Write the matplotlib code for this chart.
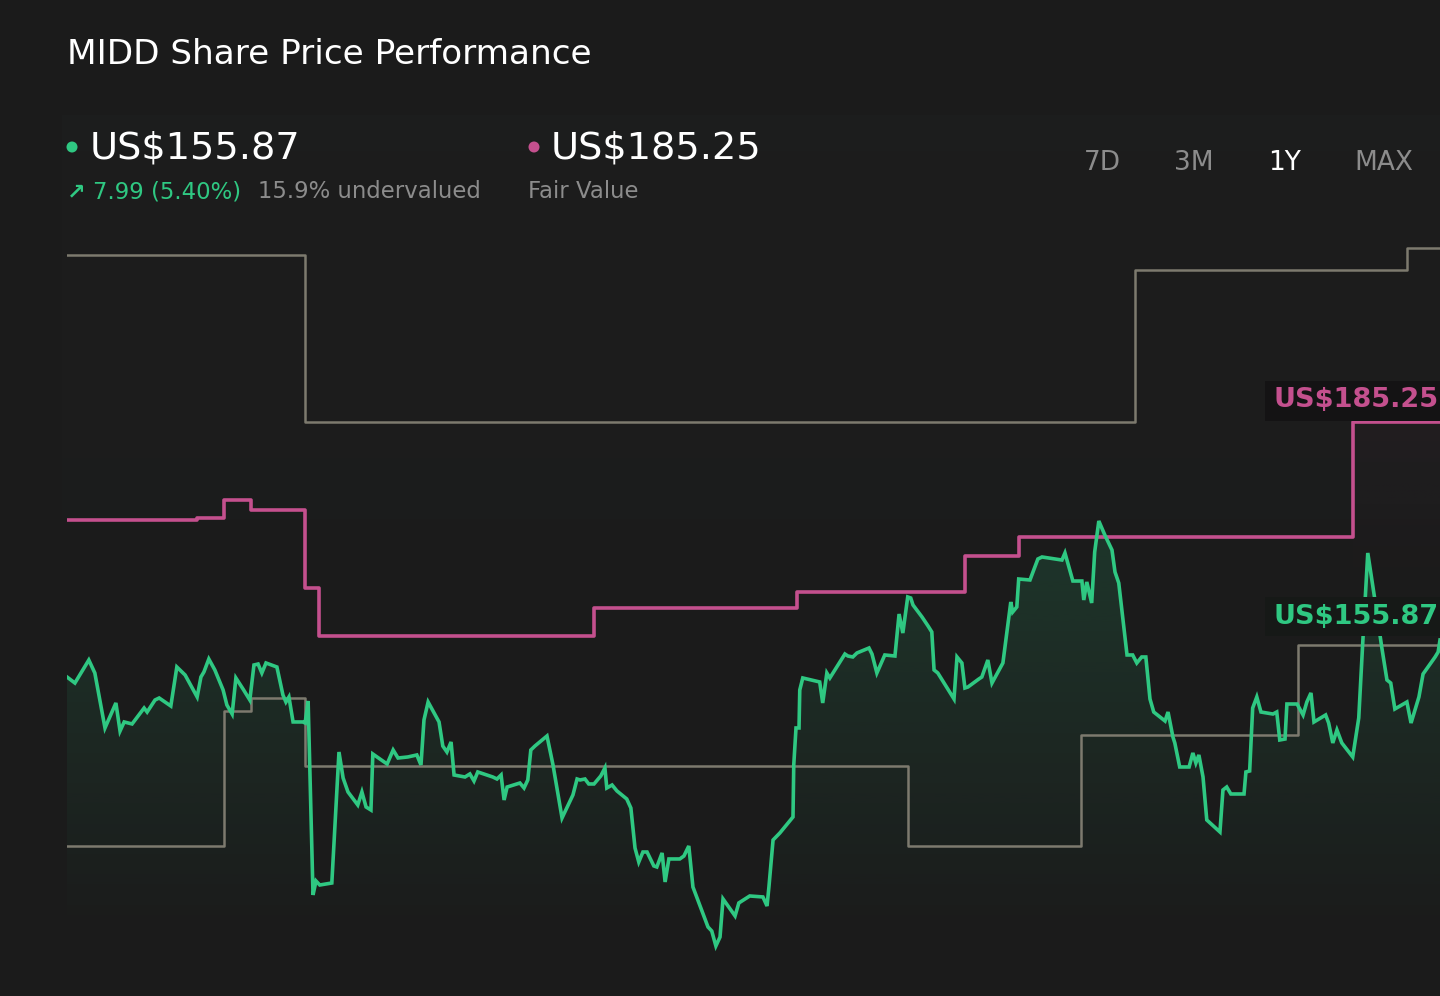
import numpy as np
import matplotlib
matplotlib.use("Agg")
import matplotlib.pyplot as plt
from matplotlib.patches import Rectangle, Polygon, Ellipse
from matplotlib.colors import to_rgb

# ---------------- data ----------------
price_days = [0.0, 2.1, 5.8, 7.4, 10.1, 13.0, 14.1, 15.2, 17.3, 20.5, 21.3, 23.4, 24.5, 27.6, 29.2,
              31.4, 34.6, 35.6, 36.4, 37.7, 39.3, 41.5, 42.5, 43.9, 44.9, 46.8, 48.6, 49.7, 50.8,
              51.8, 52.9, 55.8, 57.4, 58.2, 59.0, 60.1, 62.7, 63.3, 64.1, 65.4, 66.2, 67.2, 70.4,
              72.3, 73.4, 74.7, 77.3, 78.4, 79.5, 80.8, 81.3, 85.1, 86.7, 88.0, 90.6, 93.0, 94.1,
              94.9, 96.0, 98.9, 99.9, 101.0, 102.1, 102.9, 105.8, 107.1, 108.2, 109.2, 113.2, 114.3,
              115.4, 116.2, 117.0, 120.4, 121.5, 122.5, 123.3, 124.4, 127.6, 129.2, 131.6, 134.5,
              135.6, 136.4, 137.7, 138.7, 140.1, 141.9, 143.0, 143.5, 144.9, 146.2, 148.8, 149.9,
              151.0, 152.0, 153.1, 154.2, 156.0, 156.8, 158.2, 159.0, 160.0, 162.9, 164.0, 165.3,
              166.4, 170.4, 171.4, 172.5, 173.6, 174.4, 177.6, 178.6, 181.5, 185.0, 186.1, 186.6,
              187.7, 189.5, 193.0, 193.2, 193.8, 194.6, 194.8, 195.6, 200.1, 200.9, 202.0, 202.8,
              206.8, 207.6, 208.9, 210.0, 213.2, 214.0, 215.3, 217.4, 220.1, 221.2, 222.2, 223.5,
              224.3, 224.9, 227.3, 228.9, 229.9, 230.5, 231.5, 235.8, 236.6, 237.9, 238.7, 239.5,
              242.4, 243.2, 244.8, 245.9, 248.8, 250.9, 251.4, 252.5, 253.0, 256.0, 258.1, 259.2,
              264.5, 265.3, 267.4, 269.8, 270.3, 271.1, 272.4, 273.2, 274.3, 275.9, 277.8, 278.6,
              279.6, 281.8, 283.3, 284.4, 285.7, 286.8, 287.9, 288.9, 291.9, 292.7, 294.0, 294.5,
              295.8, 298.3, 299.3, 300.1, 300.9, 302.0, 303.0, 306.5, 307.3, 308.3, 309.4, 312.9,
              313.4, 314.4, 315.2, 316.3, 317.4, 320.6, 321.6, 322.4, 323.8, 324.3, 327.0, 328.6,
              329.6, 330.7, 331.5, 334.6, 335.4, 336.5, 337.6, 338.9, 341.8, 343.4, 344.5, 345.8,
              347.7, 349.5, 350.9, 351.9, 353.0, 356.2, 357.3, 359.4, 360.5, 363.7, 364.5, 365.0]
price_values = [150.88, 150.07, 153.17, 151.42, 144.01, 147.38, 143.60, 144.82, 144.55, 146.70, 146.16,
                147.78, 148.05, 146.97, 152.23, 151.15, 148.19, 150.88, 151.56, 153.31, 151.83, 149.13,
                147.11, 145.89, 150.75, 149.26, 147.78, 152.50, 152.63, 151.42, 152.77, 152.23, 148.46,
                147.51, 148.19, 144.82, 144.82, 144.68, 147.65, 121.50, 123.38, 122.84, 123.11, 140.77,
                137.27, 135.38, 133.63, 135.38, 133.36, 132.95, 140.50, 139.15, 141.04, 139.96, 140.10,
                140.37, 139.02, 145.09, 147.51, 144.82, 141.58, 140.77, 142.12, 137.67, 137.40, 137.81,
                136.86, 138.08, 137.40, 137.13, 137.67, 134.30, 136.05, 136.59, 135.92, 137.00, 141.04,
                141.58, 142.93, 139.02, 131.88, 134.98, 137.13, 137.00, 137.13, 136.46, 136.46, 137.54,
                138.62, 135.92, 136.32, 135.52, 134.44, 133.22, 127.83, 125.94, 127.29, 127.29, 125.41,
                125.27, 127.16, 123.25, 126.35, 126.35, 126.75, 128.10, 122.57, 117.18, 116.64, 114.62,
                115.83, 120.96, 118.67, 120.42, 121.36, 121.23, 120.01, 122.57, 128.91, 129.85, 132.01,
                139.02, 144.01, 144.01, 149.13, 150.75, 150.21, 147.38, 151.42, 150.75, 153.98, 153.71,
                153.58, 154.12, 154.79, 153.98, 151.42, 153.85, 153.71, 159.37, 156.81, 161.67, 161.53,
                160.59, 158.97, 157.76, 156.95, 151.83, 151.42, 147.92, 153.58, 152.77, 149.40, 149.53,
                150.61, 150.88, 153.17, 150.07, 152.77, 160.99, 159.64, 160.32, 164.09, 163.96, 166.79,
                167.06, 166.65, 167.60, 163.82, 163.82, 161.26, 163.69, 160.86, 167.73, 171.91, 170.02,
                168.00, 165.04, 163.55, 153.85, 153.85, 152.77, 153.58, 153.58, 147.92, 146.16, 144.95,
                146.16, 142.79, 141.99, 138.75, 138.75, 140.64, 139.29, 140.37, 137.40, 131.61, 129.99,
                135.65, 136.05, 135.11, 135.11, 138.08, 138.21, 146.70, 148.19, 146.16, 145.89, 146.16,
                142.39, 142.52, 147.24, 147.24, 145.76, 147.51, 148.73, 144.82, 145.76, 144.68, 141.99,
                143.74, 141.99, 140.10, 145.36, 155.87, 167.60, 161.26, 154.93, 150.48, 150.07, 146.57,
                147.51, 144.68, 148.19, 151.29, 153.58, 154.25, 155.87]

fair_days = [0.0, 34.6, 41.7, 48.9, 63.3, 67.0, 140.1, 194.0, 238.7, 253.0, 341.8, 365.0]
fair_values = [172.04, 172.31, 174.74, 173.39, 162.88, 156.41, 160.18, 162.34, 167.19, 169.75, 185.25, 185.25]

high_days = [0.0, 63.3, 283.9, 356.2, 365.0]
high_values = [207.76, 185.25, 205.73, 208.70, 208.70]

low_days = [0.0, 41.7, 48.9, 63.3, 223.5, 269.5, 327.2, 365.0]
low_values = [128.11, 146.30, 148.05, 138.89, 128.11, 143.07, 155.20, 155.20]

title = "MIDD Share Price Performance"
last_price = "US$155.87"
fair_value = "US$185.25"
change_text = "7.99 (5.40%)"
valuation_text = "15.9% undervalued"
fair_label = "Fair Value"
periods = ["7D", "3M", "1Y", "MAX"]
active_period = "1Y"

# ---------------- style ----------------
BG = "#1b1b1b"
GREEN = "#2fc882"
PINK = "#c4508e"
GREYLINE = "#7d7a6e"
MUTED = "#8c8c8c"

W, H = 1440, 996
fig = plt.figure(figsize=(W / 100, H / 100), dpi=100, facecolor=BG)

def fx(px):
    return px / W

def fy(py):
    return 1 - py / H

# faint panel behind the chart
panel = fig.add_axes([fx(62), fy(900), 1 - fx(62), fy(115) - fy(900)])
panel.set_axis_off()
grad = np.linspace(1, 0, 256).reshape(-1, 1)
panel.imshow(np.dstack([np.full_like(grad, 0.13), np.full_like(grad, 0.135), np.full_like(grad, 0.135), grad * 0.3]),
             aspect="auto", extent=[0, 1, 0, 1], origin="upper")
panel.set_xlim(0, 1); panel.set_ylim(0, 1)

ax = fig.add_axes([fx(67), fy(960), 1 - fx(67), fy(230) - fy(960)])
ax.set_facecolor("none")
ax.set_axis_off()

# gradient fill under price
gcol = to_rgb(GREEN)
n = 256
alpha = np.linspace(0.16, 0.0, n).reshape(-1, 1)
img = np.dstack([np.full_like(alpha, gcol[0]), np.full_like(alpha, gcol[1]), np.full_like(alpha, gcol[2]), alpha])
top = max(price_values)
bottom = 116.0
im = ax.imshow(img, aspect="auto", extent=[0, 365, bottom, top], origin="upper", zorder=1)
verts = [(price_days[0], bottom)] + list(zip(price_days, price_values)) + [(price_days[-1], bottom)]
clip = Polygon(verts, closed=True, transform=ax.transData, facecolor="none", edgecolor="none")
ax.add_patch(clip)
im.set_clip_path(clip)

# very faint shade to the right of last fair value change
pcol = to_rgb(PINK)
a2 = np.linspace(0.035, 0.0, n).reshape(-1, 1)
img2 = np.dstack([np.full_like(a2, pcol[0]), np.full_like(a2, pcol[1]), np.full_like(a2, pcol[2]), a2])
ax.imshow(img2, aspect="auto", extent=[fair_days[-2], 365, 160, fair_values[-1]], origin="upper", zorder=1)

# analyst range step lines
ax.step(high_days, high_values, where="post", color=GREYLINE, lw=1.8, zorder=2)
ax.step(low_days, low_values, where="post", color=GREYLINE, lw=1.8, zorder=2)

# fair value step line
ax.step(fair_days, fair_values, where="post", color=PINK, lw=2.6, zorder=3)

# price line
ax.plot(price_days, price_values, color=GREEN, lw=2.6, zorder=4, solid_joinstyle="miter")
ax.set_xlim(0, 365)
ax.set_ylim(112.73, 211.14)

# value tags on the right
fig.patches.append(Rectangle((fx(1265), fy(421)), 1 - fx(1265), fy(381) - fy(421),
                             transform=fig.transFigure, facecolor="#141314", edgecolor="none", zorder=5))
fig.patches.append(Rectangle((fx(1265), fy(636)), 1 - fx(1265), fy(597) - fy(636),
                             transform=fig.transFigure, facecolor="#161917", edgecolor="none", zorder=5))
fig.text(fx(1273), fy(400), fair_value, color=PINK, fontsize=19.5, fontweight="bold", va="center", ha="left", zorder=6)
fig.text(fx(1273), fy(617), last_price, color=GREEN, fontsize=19.5, fontweight="bold", va="center", ha="left", zorder=6)

# header texts
fig.text(fx(67), fy(54), title, color="white", fontsize=24.7, va="center", ha="left")
for cx, col in ((72, GREEN), (534, PINK)):
    fig.patches.append(Ellipse((fx(cx), fy(147)), 11 / W, 11 / H, transform=fig.transFigure,
                               facecolor=col, edgecolor="none"))
fig.text(fx(90), fy(148), last_price, color="white", fontsize=27.5, va="center", ha="left")
fig.text(fx(551), fy(148), fair_value, color="white", fontsize=27.5, va="center", ha="left")
fig.text(fx(67), fy(192), "↗", color=GREEN, fontsize=16, fontweight="bold", va="center", ha="left")
fig.text(fx(93), fy(192), change_text, color=GREEN, fontsize=16.4, va="center", ha="left")
fig.text(fx(258), fy(192), valuation_text, color=MUTED, fontsize=16.4, va="center", ha="left")
fig.text(fx(528), fy(192), fair_label, color=MUTED, fontsize=16.4, va="center", ha="left")

period_x = [1102, 1194, 1285, 1384]
for label, px in zip(periods, period_x):
    fig.text(fx(px), fy(163), label, color="white" if label == active_period else MUTED,
             fontsize=19, va="center", ha="center")

fig.savefig("out.png", dpi=100, facecolor=BG)
